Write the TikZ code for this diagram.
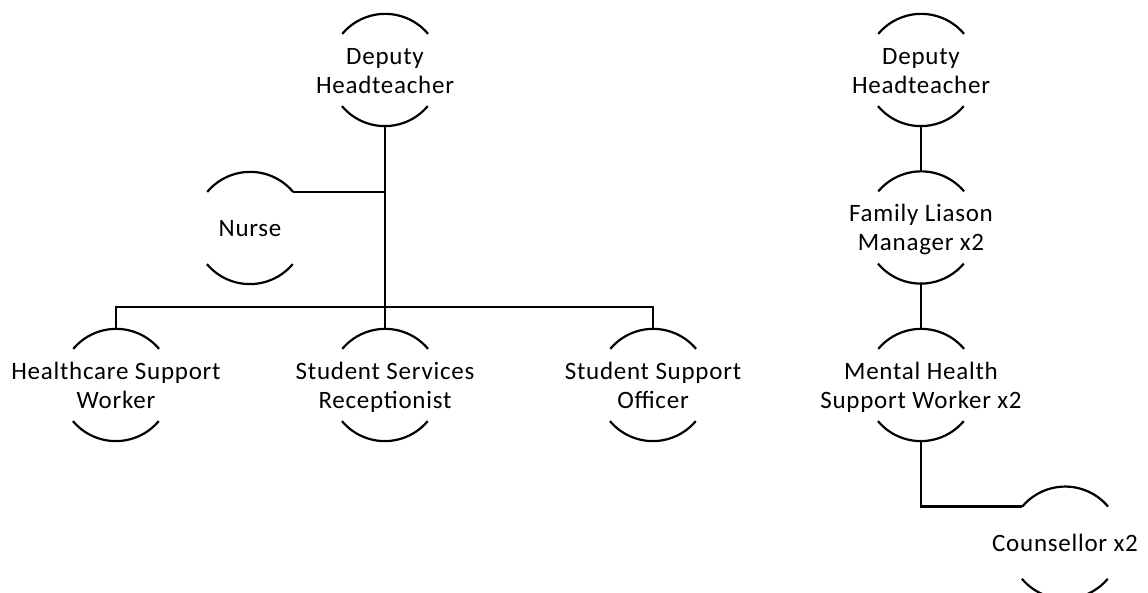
\documentclass[tikz,border=0pt]{standalone}
\usepackage{fontspec}
\setmainfont{Carlito}[LetterSpace=3]
\newcommand\ms{\rule[-5.5pt]{0pt}{29pt}}
\begin{document}
\begin{tikzpicture}[x=1pt,y=1pt,
  ring/.style={circle, minimum size=112pt, inner sep=0pt, draw=none},
  txt/.style={align=center, font=\fontsize{25}{29}\selectfont, inner sep=0pt},
  conn/.style={line width=2.2pt},
  arcline/.style={line width=2.2pt}]
\useasboundingbox (0,0) rectangle (1148,593);
% left tree
\node[ring] (dh1) at (385,523) {};
\node[ring] (nurse) at (250,365) {};
\node[ring] (hsw) at (116,208) {};
\node[ring] (ssr) at (385,208) {};
\node[ring] (sso) at (653,208) {};
% right chain
\node[ring] (dh2) at (921,523) {};
\node[ring] (flm) at (921,365.5) {};
\node[ring] (mhs) at (921,208) {};
\node[ring] (cou) at (1065,50.3) {};
% texts
\node[txt] (dh1t) at (dh1) {\ms Deputy\\\ms Headteacher};
\node[txt] (nurset) at (nurse) {\ms Nurse};
\node[txt] (hswt) at (hsw) {\ms Healthcare Support\\\ms Worker};
\node[txt] (ssrt) at (ssr) {\ms Student Services\\\ms Receptionist};
\node[txt] (ssot) at (sso) {\ms Student Support\\\ms Officer};
\node[txt] (dh2t) at (dh2) {\ms Deputy\\\ms Headteacher};
\node[txt] (flmt) at (flm) {\ms Family Liason\\\ms Manager x2};
\node[txt] (mhst) at (mhs) {\ms Mental Health\\\ms Support Worker x2};
\node[txt] (cout) at (cou) {\ms Counsellor x2};
% arcs
\foreach \n in {dh1,nurse,hsw,ssr,sso,dh2,flm,mhs,cou}{
  \draw[arcline] (\n.40) arc (40:140:56pt);
  \draw[arcline] (\n.220) arc (220:320:56pt);
}
% connectors
\coordinate (bus) at (385,286.3);
\draw[conn] (dh1.south) -- (ssr.north);
\draw[conn] (hsw.north) |- (bus) -| (sso.north);
\draw[conn] (nurse.40) -- (nurse.40 -| dh1.south);
\draw[conn] (dh2.south) -- (flm.north);
\draw[conn] (flm.south) -- (mhs.north);
\draw[conn] (mhs.south) |- (cou.140);
\end{tikzpicture}
\end{document}
